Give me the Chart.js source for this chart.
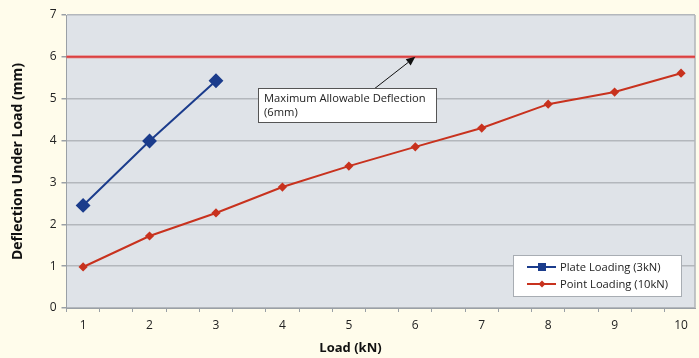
<!DOCTYPE html>
<html>
<head>
<meta charset="utf-8">
<script src="https://cdn.jsdelivr.net/npm/chart.js@4"></script>
<style>
  html, body { margin: 0; padding: 0; background: #fffceb; }
  #wrap { width: 699px; height: 358px; }
</style>
</head>
<body>
<div id="wrap"><canvas id="myChart" width="699" height="358"></canvas></div>
<script>
// data
var loads = [1, 2, 3, 4, 5, 6, 7, 8, 9, 10];
var plateLoads = [1, 2, 3];
var plateDeflection = [2.45, 3.99, 5.43];
var pointDeflection = [0.98, 1.72, 2.27, 2.89, 3.39, 3.85, 4.30, 4.87, 5.16, 5.61];
var allowableDeflection = 6;
var yTicks = [0, 1, 2, 3, 4, 5, 6, 7];

var X_MIN = 0.75, X_MAX = 10.21;
var FONT = '"Open Sans", "Noto Sans", sans-serif';

function toPoints(xs, ys) {
  return xs.map(function (x, i) { return { x: x, y: ys[i] }; });
}

// horizontal limit line + the callout box with arrow
var annotationPlugin = {
  id: 'annot',
  beforeDatasetsDraw: function (chart) {
    var c = chart.ctx, ys = chart.scales.y, a = chart.chartArea;
    var yy = ys.getPixelForValue(allowableDeflection);
    c.save();
    // right border of the plot
    c.strokeStyle = '#b0b4b9'; c.lineWidth = 1.5;
    c.beginPath(); c.moveTo(a.right, a.top); c.lineTo(a.right, a.bottom); c.stroke();
    c.strokeStyle = 'rgba(232,120,120,0.6)';
    c.lineWidth = 3.5;
    c.beginPath(); c.moveTo(a.left, yy); c.lineTo(a.right, yy); c.stroke();
    c.strokeStyle = '#dc4040';
    c.lineWidth = 1.6;
    c.beginPath(); c.moveTo(a.left, yy); c.lineTo(a.right, yy); c.stroke();
    c.restore();
  },
  afterDatasetsDraw: function (chart) {
    var c = chart.ctx, xs = chart.scales.x, ys = chart.scales.y;
    var tipX = xs.getPixelForValue(6), tipY = ys.getPixelForValue(allowableDeflection);
    var tailX = xs.getPixelForValue(5.37), tailY = ys.getPixelForValue(5.22);
    c.save();
    c.strokeStyle = '#111'; c.fillStyle = '#111'; c.lineWidth = 1;
    var ang = Math.atan2(tipY - tailY, tipX - tailX);
    var hx = tipX - 9 * Math.cos(ang), hy = tipY - 9 * Math.sin(ang);
    c.beginPath(); c.moveTo(tailX, tailY); c.lineTo(hx, hy); c.stroke();
    c.beginPath();
    c.moveTo(tipX, tipY);
    c.lineTo(hx + 4 * Math.sin(ang), hy - 4 * Math.cos(ang));
    c.lineTo(hx - 4 * Math.sin(ang), hy + 4 * Math.cos(ang));
    c.closePath(); c.fill();
    // box
    var bx = Math.round(xs.getPixelForValue(3.63)), by = Math.round(ys.getPixelForValue(5.26));
    var bw = 178, bh = 34;
    c.fillStyle = '#ffffff';
    c.fillRect(bx + 0.5, by + 0.5, bw, bh);
    c.strokeStyle = '#555';
    c.strokeRect(bx + 0.5, by + 0.5, bw, bh);
    c.fillStyle = '#222';
    c.font = '11.2px ' + FONT;
    c.textBaseline = 'middle';
    c.fillText('Maximum Allowable Deflection', bx + 6, by + 11);
    c.fillText('(6mm)', bx + 6, by + 25);
    c.restore();
  }
};

// legend box inside plot area, bottom-right
var legendPlugin = {
  id: 'boxLegend',
  afterDatasetsDraw: function (chart) {
    var c = chart.ctx, a = chart.chartArea;
    var ds = chart.data.datasets;
    var w = 168, h = 41;
    var x = Math.round(a.right - 14 - w), y = Math.round(a.bottom - 12 - h);
    c.save();
    c.fillStyle = '#ffffff';
    c.fillRect(x + 0.5, y + 0.5, w, h);
    c.strokeStyle = '#a8adb3'; c.lineWidth = 1;
    c.strokeRect(x + 0.5, y + 0.5, w, h);
    c.font = '11.2px ' + FONT;
    c.textBaseline = 'middle';
    ds.forEach(function (d, i) {
      var ly = y + 12 + i * 17;
      c.strokeStyle = d.borderColor; c.lineWidth = 2;
      c.beginPath(); c.moveTo(x + 14, ly); c.lineTo(x + 43, ly); c.stroke();
      c.fillStyle = d.borderColor;
      if (i === 0) {
        c.fillRect(x + 25, ly - 4, 8, 8);
      } else {
        c.beginPath();
        c.moveTo(x + 29, ly - 3.5); c.lineTo(x + 32.5, ly); c.lineTo(x + 29, ly + 3.5); c.lineTo(x + 25.5, ly);
        c.closePath(); c.fill();
      }
      c.fillStyle = '#222';
      c.fillText(d.label, x + 47, ly + 1);
    });
    c.restore();
  }
};

var plotBg = {
  id: 'plotBg',
  beforeDraw: function (chart) {
    var c = chart.ctx, a = chart.chartArea;
    c.save();
    c.fillStyle = '#fffceb';
    c.fillRect(0, 0, chart.width, chart.height);
    c.fillStyle = '#dfe3e8';
    c.fillRect(a.left, a.top, a.right - a.left, a.bottom - a.top);
    c.restore();
  },
  afterDraw: function (chart) {
    // x axis title centred on the whole figure
    var c = chart.ctx;
    c.save();
    c.fillStyle = '#111';
    c.font = 'bold 13px ' + FONT;
    c.textAlign = 'center';
    c.textBaseline = 'middle';
    c.fillText('Load (kN)', chart.width / 2 + 1, 348);
    c.restore();
  }
};

var ctx = document.getElementById('myChart').getContext('2d');
var myChart = new Chart(ctx, {
  type: 'line',
  data: {
    datasets: [{
      label: 'Plate Loading (3kN)',
      data: toPoints(plateLoads, plateDeflection),
      borderColor: '#1b3c8c',
      backgroundColor: '#1b3c8c',
      borderWidth: 2,
      pointStyle: 'rectRot',
      pointRadius: 6,
      pointHoverRadius: 6
    }, {
      label: 'Point Loading (10kN)',
      data: toPoints(loads, pointDeflection),
      borderColor: '#c8321e',
      backgroundColor: '#c8321e',
      borderWidth: 2,
      pointStyle: 'rectRot',
      pointRadius: 3.2,
      pointHoverRadius: 3.2
    }]
  },
  plugins: [plotBg, annotationPlugin, legendPlugin],
  options: {
    responsive: false,
    animation: false,
    layout: { autoPadding: false, padding: { top: 15, right: 4, left: 0, bottom: 0 } },
    plugins: {
      legend: { display: false },
      tooltip: { enabled: false }
    },
    scales: {
      x: {
        type: 'linear',
        min: X_MIN,
        max: X_MAX,
        afterBuildTicks: function (scale) {
          var t = [];
          for (var v = X_MIN; v <= X_MAX + 0.001; v += 0.25) t.push({ value: Math.round(v * 100) / 100 });
          scale.ticks = t;
        },
        afterFit: function (scale) { scale.height = 50; scale.paddingLeft = 0; scale.paddingRight = 0; },
        border: { color: '#9aa0a6', width: 1 },
        grid: {
          drawOnChartArea: false,
          drawTicks: true,
          tickLength: 4,
          tickColor: function (ctx) {
            var v = ctx.tick ? ctx.tick.value : 0;
            var k = Math.round((v - X_MIN) * 100) % 50;
            return k === 0 ? '#9aa0a6' : 'rgba(0,0,0,0)';
          }
        },
        ticks: {
          autoSkip: false,
          maxRotation: 0,
          padding: 6,
          color: '#222',
          font: { family: FONT, size: 12 },
          callback: function (v) {
            return Math.abs(v - Math.round(v)) < 0.001 && loads.indexOf(Math.round(v)) >= 0 ? String(Math.round(v)) : '';
          }
        },
        title: { display: false }
      },
      y: {
        min: 0,
        max: 7,
        afterBuildTicks: function (scale) {
          scale.ticks = yTicks.map(function (v) { return { value: v }; });
        },
        afterFit: function (scale) { scale.width = 66.5; },
        border: { color: '#9aa0a6', width: 1 },
        grid: {
          color: '#b3b7bc',
          lineWidth: 1.5,
          tickLength: 5,
          tickColor: '#9aa0a6'
        },
        ticks: {
          padding: 5,
          color: '#222',
          font: { family: FONT, size: 12 }
        },
        title: {
          display: true,
          text: 'Deflection Under Load (mm)',
          color: '#111',
          font: { family: FONT, size: 14, weight: 'bold' },
          padding: { top: 10, bottom: 6 }
        }
      }
    }
  }
});
</script>
</body>
</html>
